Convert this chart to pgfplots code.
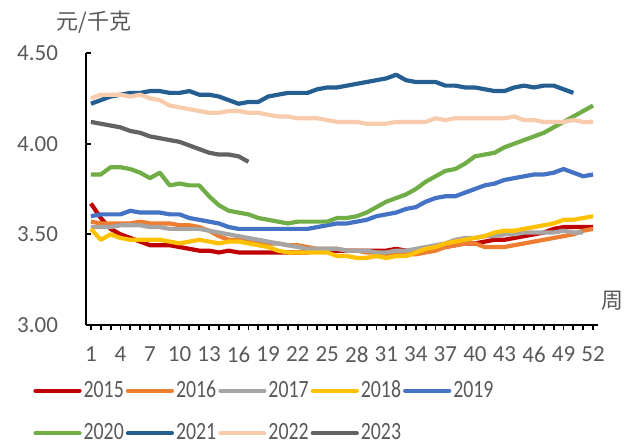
\documentclass[border=0pt]{standalone}
\usepackage{fontspec}
\setmainfont{Carlito}
\newfontfamily\cjk{Noto Sans CJK SC}
\usepackage{graphicx}
\usepackage{pgfplots}
\usepackage{pgfplotstable}
\pgfplotsset{compat=1.18}

\definecolor{c15}{HTML}{C00000}
\definecolor{c16}{HTML}{ED7D31}
\definecolor{c17}{HTML}{A5A5A5}
\definecolor{c18}{HTML}{FFC000}
\definecolor{c19}{HTML}{4472C4}
\definecolor{c20}{HTML}{70AD47}
\definecolor{c21}{HTML}{255E91}
\definecolor{c22}{HTML}{F8CBAD}
\definecolor{c23}{HTML}{636363}
\definecolor{txtgray}{HTML}{595959}

% week, 2015 ... 2023
\pgfplotstableread{
w a b c d e f g h i
1 3.67 3.57 3.54 3.53 3.60 3.83 4.22 4.25 4.12
2 3.59 3.56 3.54 3.47 3.61 3.83 4.24 4.27 4.11
3 3.53 3.56 3.54 3.50 3.61 3.87 4.26 4.27 4.10
4 3.50 3.56 3.55 3.48 3.61 3.87 4.27 4.27 4.09
5 3.48 3.56 3.55 3.47 3.63 3.86 4.28 4.26 4.07
6 3.46 3.57 3.55 3.47 3.62 3.84 4.28 4.27 4.06
7 3.44 3.56 3.54 3.47 3.62 3.81 4.29 4.25 4.04
8 3.44 3.56 3.54 3.47 3.62 3.84 4.29 4.24 4.03
9 3.44 3.56 3.53 3.46 3.61 3.77 4.28 4.21 4.02
10 3.43 3.55 3.53 3.45 3.61 3.78 4.28 4.20 4.01
11 3.42 3.55 3.53 3.46 3.59 3.77 4.29 4.19 3.99
12 3.41 3.54 3.53 3.47 3.58 3.77 4.27 4.18 3.97
13 3.41 3.52 3.52 3.46 3.57 3.71 4.27 4.17 3.95
14 3.40 3.49 3.51 3.45 3.56 3.66 4.26 4.17 3.94
15 3.41 3.47 3.50 3.46 3.54 3.63 4.24 4.18 3.94
16 3.40 3.47 3.49 3.46 3.53 3.62 4.22 4.18 3.93
17 3.40 3.46 3.48 3.45 3.53 3.61 4.23 4.17 3.90
18 3.40 3.46 3.47 3.44 3.53 3.59 4.23 4.17 nan
19 3.40 3.45 3.46 3.43 3.53 3.58 4.26 4.16 nan
20 3.40 3.45 3.45 3.41 3.53 3.57 4.27 4.15 nan
21 3.40 3.44 3.44 3.40 3.53 3.56 4.28 4.15 nan
22 3.40 3.44 3.43 3.40 3.53 3.57 4.28 4.14 nan
23 3.40 3.43 3.42 3.40 3.53 3.57 4.28 4.14 nan
24 3.41 3.42 3.42 3.40 3.54 3.57 4.30 4.14 nan
25 3.41 3.42 3.42 3.40 3.55 3.57 4.31 4.13 nan
26 3.41 3.42 3.42 3.38 3.56 3.59 4.31 4.12 nan
27 3.41 3.41 3.41 3.38 3.56 3.59 4.32 4.12 nan
28 3.41 3.41 3.41 3.37 3.57 3.60 4.33 4.12 nan
29 3.41 3.40 3.41 3.37 3.58 3.62 4.34 4.11 nan
30 3.41 3.40 3.40 3.38 3.60 3.65 4.35 4.11 nan
31 3.41 3.39 3.40 3.37 3.61 3.68 4.36 4.11 nan
32 3.42 3.39 3.41 3.38 3.62 3.70 4.38 4.12 nan
33 3.41 3.39 3.41 3.38 3.64 3.72 4.35 4.12 nan
34 3.41 3.39 3.42 3.40 3.65 3.75 4.34 4.12 nan
35 3.42 3.40 3.43 3.42 3.68 3.79 4.34 4.12 nan
36 3.42 3.41 3.44 3.43 3.70 3.82 4.34 4.14 nan
37 3.43 3.43 3.45 3.45 3.71 3.85 4.32 4.13 nan
38 3.44 3.44 3.47 3.46 3.71 3.86 4.32 4.14 nan
39 3.45 3.45 3.48 3.47 3.73 3.89 4.31 4.14 nan
40 3.45 3.45 3.48 3.48 3.75 3.93 4.31 4.14 nan
41 3.46 3.43 3.49 3.49 3.77 3.94 4.30 4.14 nan
42 3.47 3.43 3.49 3.51 3.78 3.95 4.29 4.14 nan
43 3.47 3.43 3.50 3.52 3.80 3.98 4.29 4.14 nan
44 3.48 3.44 3.50 3.52 3.81 4.00 4.31 4.15 nan
45 3.49 3.45 3.51 3.53 3.82 4.02 4.32 4.13 nan
46 3.50 3.46 3.51 3.54 3.83 4.04 4.31 4.13 nan
47 3.51 3.47 3.51 3.55 3.83 4.06 4.32 4.12 nan
48 3.53 3.48 3.51 3.56 3.84 4.09 4.32 4.12 nan
49 3.54 3.49 3.52 3.58 3.86 4.12 4.30 4.12 nan
50 3.54 3.50 3.51 3.58 3.84 4.15 4.28 4.13 nan
51 3.54 3.52 3.51 3.59 3.82 4.18 nan 4.12 nan
52 3.54 3.53 nan 3.60 3.83 4.21 nan 4.12 nan
}\data

\newcommand{\legtxt}[1]{\scalebox{0.8}[1]{#1}}

\begin{document}
\begin{tikzpicture}
\useasboundingbox (-43pt,-59pt) rectangle (274.5pt,162.5pt);
\begin{axis}[
    scale only axis,
    width=256pt, height=136pt,
    xmin=0.5, xmax=52.5,
    ymin=3, ymax=4.5,
    axis lines=left,
    axis line style={-, black, line width=0.9pt},
    xtick={1,4,...,52},
    minor x tick num=2,
    ytick={3,3.5,4,4.5},
    xtick align=outside,
    ytick align=inside,
    major tick length=2.5pt,
    minor tick length=2.5pt,
    tick style={black, line width=0.9pt},
    /pgf/number format/assume math mode=true,
    y tick label style={/pgf/number format/fixed, /pgf/number format/fixed zerofill,
        /pgf/number format/precision=2, xshift=-10.5pt},
    x tick label style={yshift=-5pt},
    tick label style={font=\fontsize{11.5}{13}\selectfont, text=txtgray},
    every axis plot/.append style={line width=2.1pt, line join=round, no markers},
    legend columns=5,
    legend image code/.code={\draw[#1, line cap=round] (0pt,0pt) -- (22pt,0pt);},
    legend style={draw=none, fill=none, inner sep=0pt,
        at={(-0.1035,-0.196)}, anchor=north west,
        font=\fontsize{12.4}{14}\selectfont,
        nodes={inner sep=1pt, text=txtgray},
        /tikz/every even column/.append style={column sep=0pt},
        row sep=9.5pt},
]
\addplot[c15] table[x=w,y=a]{\data}; \addlegendentry{\legtxt{2015}}
\addplot[c16] table[x=w,y=b]{\data}; \addlegendentry{\legtxt{2016}}
\addplot[c17] table[x=w,y=c]{\data}; \addlegendentry{\legtxt{2017}}
\addplot[c18] table[x=w,y=d]{\data}; \addlegendentry{\legtxt{2018}}
\addplot[c19] table[x=w,y=e]{\data}; \addlegendentry{\legtxt{2019}}
\addplot[c20] table[x=w,y=f]{\data}; \addlegendentry{\legtxt{2020}}
\addplot[c21] table[x=w,y=g]{\data}; \addlegendentry{\legtxt{2021}}
\addplot[c22] table[x=w,y=h]{\data}; \addlegendentry{\legtxt{2022}}
\addplot[c23] table[x=w,y=i]{\data}; \addlegendentry{\legtxt{2023}}
\end{axis}
\node[font=\cjk\fontsize{11}{13}\selectfont, text=txtgray] at (4pt,151.5pt) {元/千克};
\node[font=\cjk\fontsize{11}{13}\selectfont, text=txtgray] at (263pt,12pt) {周};
\end{tikzpicture}
\end{document}
